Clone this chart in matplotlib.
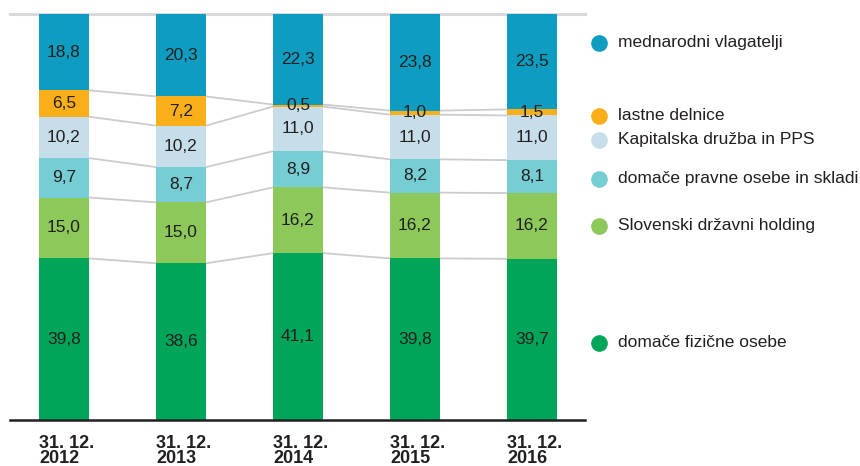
import matplotlib.pyplot as plt
from matplotlib import transforms
import numpy as np

plt.rcParams['font.family'] = ['Liberation Sans', 'DejaVu Sans']

dates = ['31. 12.\n2012', '31. 12.\n2013', '31. 12.\n2014', '31. 12.\n2015', '31. 12.\n2016']

# od spodaj navzgor
fizicne = [39.8, 38.6, 41.1, 39.8, 39.7]
sdh = [15.0, 15.0, 16.2, 16.2, 16.2]
pravne = [9.7, 8.7, 8.9, 8.2, 8.1]
kad = [10.2, 10.2, 11.0, 11.0, 11.0]
lastne = [6.5, 7.2, 0.5, 1.0, 1.5]
mednarodni = [18.8, 20.3, 22.3, 23.8, 23.5]

names = ['domače fizične osebe', 'Slovenski državni holding',
         'domače pravne osebe in skladi', 'Kapitalska družba in PPS',
         'lastne delnice', 'mednarodni vlagatelji']
colors = ['#00a55a', '#8cc85a', '#76cdd4', '#c5deea', '#f9ae1a', '#0e9dc0']
series = [fizicne, sdh, pravne, kad, lastne, mednarodni]

# legenda - y polozaj (v enotah osi)
legend_y = [19.0, 47.8, 59.4, 69.0, 74.9, 92.9]

txt = '#231f20'
fig = plt.figure(figsize=(8.6, 4.66), dpi=100)
ax = fig.add_axes([10 / 860, 46 / 466, 575 / 860, 406 / 466])

x = np.arange(len(dates))
w = 0.427
bottom = np.zeros(len(dates))
levels = []
for vals, c in zip(series, colors):
    vals = np.array(vals)
    ax.bar(x, vals, w, bottom=bottom, color=c, zorder=2)
    for xi, b, v in zip(x, bottom, vals):
        ax.text(xi, b + v / 2, f'{v:.1f}'.replace('.', ','), ha='center', va='center',
                fontsize=12.5, color=txt, zorder=3)
    bottom = bottom + vals
    levels.append(bottom.copy())

# povezovalne crte
for lev in levels[:-1]:
    for i in range(len(x) - 1):
        ax.plot([x[i] + w / 2, x[i + 1] - w / 2], [lev[i], lev[i + 1]],
                color='#cccccc', lw=1.3, zorder=1)

ax.set_xlim(-0.4615, 4.453)
ax.set_ylim(0, 100)
for s in ['left', 'right', 'top']:
    ax.spines[s].set_visible(False)
ax.spines['bottom'].set_color('#231f20')
ax.spines['bottom'].set_linewidth(1.8)
ax.axhline(100, color='#d9d9d9', lw=2.2, clip_on=False, zorder=1)
ax.set_xticks([])
ax.set_yticks([])

for xi, d in zip(x, dates):
    ax.text(xi - w / 2, -0.037, d, transform=ax.get_xaxis_transform(), ha='left', va='top',
            fontsize=13, fontweight='bold', color=txt, linespacing=0.88)

tr = transforms.blended_transform_factory(fig.transFigure, ax.transData)
for name, c, ly in zip(names, colors, legend_y):
    ax.plot([599 / 860], [ly], 'o', color=c, ms=12, mec='none', transform=tr, clip_on=False)
    ax.text(618 / 860, ly, name, transform=tr, ha='left', va='center', fontsize=12.5, color=txt)

fig.savefig('out.png', dpi=100)
